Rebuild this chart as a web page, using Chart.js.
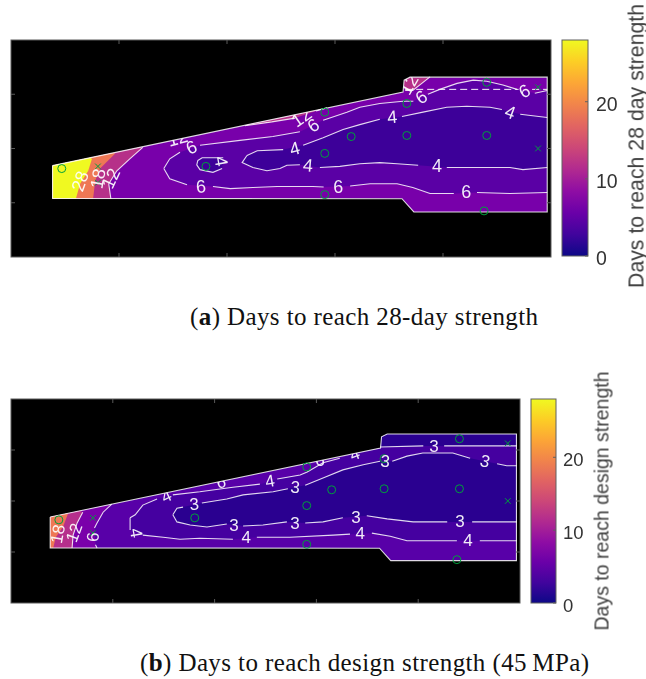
<!DOCTYPE html>
<html>
<head>
<meta charset="utf-8">
<title>Days to reach strength</title>
<script src="https://cdn.jsdelivr.net/npm/chart.js@4"></script>
<style>
  html, body { margin: 0; background: #fff; overflow: hidden; }
  canvas { position: absolute; }
  .caption { position: absolute; font-family: "Liberation Serif", serif; color: #111; white-space: nowrap; letter-spacing: 0.4px; }
  .barTitle { position: absolute; font-family: "Liberation Sans", sans-serif; color: #404040; white-space: nowrap;
    transform: translate(-50%, -50%) rotate(-90deg); }
</style>
</head>
<body>
<canvas id="mapA" width="550" height="227" style="left:6px;top:35px"></canvas>
<canvas id="barA" width="91" height="240" style="left:555px;top:30px"></canvas>
<canvas id="mapB" width="519" height="214" style="left:6px;top:394px"></canvas>
<canvas id="barB" width="76" height="228" style="left:524px;top:389px"></canvas>
<div class="barTitle" style="left:637px;top:146px;font-size:21.3px">Days to reach 28 day strength</div>
<div class="barTitle" style="left:602px;top:501px;font-size:19.5px">Days to reach design strength</div>
<div class="caption" style="left:190px;top:303px;font-size:25px">(<b>a</b>) Days to reach 28-day strength</div>
<div class="caption" style="left:140px;top:649px;font-size:25px">(<b>b</b>) Days to reach design strength (45&#8201;MPa)</div>
<script>
// section outline and sensor sites, same for both plots
const outline = [[7.7,16.85],[7.7,10.8],[72.4,10.75],[74.6,8.3],[99.3,8.3],[99.3,33.15],[73.9,33.15],[72.8,32.6],[72.6,30.4]];
const circleSites = [[9.4,16.3],[36.1,16.7],[58.1,26.7],[73.3,28.3],[88.1,32.2],[63,22.2],[73.3,22.4],[88.1,22.4],[58.1,19.1],[58.1,11.5],[87.6,8.5]];
const crossSites = [[16.1,16.7],[16.1,13.7],[97.6,31.3],[97.6,20]];

// plot a contours, null = gap in the line (label sits there, or a band corner outside the section)
const a12Left = [[24.4,20.2],[22,18.1],[19.6,15.9],[18.1,13.5],[18.5,10.7],null,[7,10],null,[7,22]];
const a18 = [[19.3,19.1],[16.5,16.3],[15.6,14.1],[15.2,10.7],null,[7,10],null,[7,22]];
const a28 = [[15,18.1],[14.3,15.9],[12.8,13.5],[12,10.7],null,[7,10],null,[7,22]];
const a12Top = [[43.3,24.2],[48.3,24.9],[52.6,25.6],null,[56.5,26.9],[58.5,27.5],null,[58.5,32],null,[43.3,32]];
const a12Notch = [[73,30.7],[74.4,30.7],[77.6,33.2],null,[77.6,35],null,[72,35]];
const a6 = [[28.3,16.3],[29.4,18.1],[31.3,19.3],null,[35,20.6],[42.4,21.5],[48.5,22.2],[53.5,23.1],null,[57.8,25.2],[62.2,26.7],[64.6,27.6],[68.3,28.3],[72.6,28.7],[74.5,28.7],null,[77.2,30],[79.4,30.9],[82.6,32],[85.6,32.6],[88.1,32.4],[91.1,31.7],[93.7,30.9],null,[97,30.2],[99.3,30.7],null,[99.3,11.9],[92.4,11.7],[86.3,11.9],null,[82,11.7],[77.6,11.7],[74.4,12.8],[71.5,13.5],[66.5,13.5],[62.8,13.1],null,[57.9,12.9],[55.9,13],[49.3,13],[44.8,12.8],[40.6,12.6],[37.4,13],null,[32.6,13.3],[29.4,14.4],[28.3,16.3]];
const a4 = [[43.7,18.7],[45.6,19.6],[50.4,19.8],null,[54.1,20.6],[57.8,22],[61.5,23.5],[64.6,24.4],[68.3,25.4],null,[72.4,25.9],[76.3,26.7],[80.7,27.6],[84.4,27.8],[88.7,27.6],[90.9,27.2],null,[94.3,26.3],[99.3,25.7],null,[99.3,16.5],[94.8,16.1],[92.4,16.5],[80.7,16.5],null,[75.4,16.9],[71.5,17.2],[68.3,17.4],[64.6,17.2],[60.9,16.7],[57.2,16.5],null,[53.5,17],[51.1,16.9],[49.8,16.3],[47.4,15.9],[44.8,16.5],[42.8,17.4],[43.7,18.7]];
const a4Core = [[34.6,17.8],[35.4,18.3],[39.3,18.3],null,[39.1,16.3],[37.4,15.6],[35,16.1],[34.4,17],[34.6,17.8]];
const aDashed = [[73,30.9],[94,30.9],null,[96.5,30.9],[99.3,30.9]];
const aLabelText = ['28','18','12','12','6','6','4','4','6','12','4','4','6','4','6','6','6','12','4'];
const aLabelX = [13,16.3,18.7,30.9,33.5,35.2,38.7,52.6,56.1,53.9,55,70.6,76.1,92.4,95.2,60.6,84.3,73.9,78.9];
const aLabelY = [13.9,14.4,14.4,21.7,20,12.8,17.6,19.8,24.1,25.6,16.7,25.6,29.3,26.5,30.4,12.8,11.7,31.7,16.5];
const aLabelTurn = [-70,-80,-65,-15,-25,-5,80,-15,-35,-35,5,-5,-35,20,-30,0,0,-60,0];

// plot b contours
const b6Line = [[19.8,19.4],[18.1,17.8],[16.9,15.7],[16.4,14.7],null,[16.6,11.4],[16.9,10.8],null,[7,10],null,[7,22]];
const b12 = [[14.1,17.8],[13,15.7],[12.2,13.3],[12,10.8],null,[7,10],null,[7,22]];
const b18 = [[11.2,17.5],[10.2,14.9],[8.8,12.9],[8.3,10.8],null,[7,10],null,[7,22]];
const b4 = [[23.4,16.7],[24.4,17.3],[25.9,19.2],[28.7,20.4],null,[31.8,21.2],[37.1,21.8],[43.6,22.7],[48.9,23.3],null,[52.3,24.3],[56.8,25.1],[58.2,25.7],[61.3,27.5],[64.6,28.4],null,[69.5,30],null,[73,35],null,[101,35],null,[101,12.2],null,[99.4,12.2],[92.1,12.2],null,[87.6,12.2],[77.8,12.2],[74.5,13.1],[70.9,13.7],null,[66.6,13.5],[63.3,13.3],[54.8,12.9],[48.3,12.9],null,[43.6,12.5],[37.1,12.7],[33.2,12.5],[29.9,12.9],[25.9,13.3],null,[23.4,14.3],[23.4,16.7]];
const b3 = [[31.8,17.3],[32.6,18.6],[33.8,18.8],null,[37.5,19.6],[42.4,20.4],[45.6,21.2],[51.5,21.8],[54.4,22.4],null,[57.8,23.1],[61.3,24.5],[65.2,26.1],[69.2,27.1],[72.5,27.8],null,[74.9,27.8],[77.8,28.8],[80.9,29.4],[86.8,29.4],[90.2,28.4],null,[95.5,27.3],[97.4,26.9],[99.4,26.9],null,[99.4,15.9],[90.6,15.9],null,[85.7,15.9],[79,15.9],[73.9,16.5],[69.9,17.1],null,[65.2,16.7],[61.3,15.9],[57.8,15.7],null,[54.2,15.9],[49.5,15.3],[45.6,15.1],null,[42.4,15.5],[38.5,14.9],[35.2,15.3],[32.6,15.9],[31.8,17.3]];
const b3Top = [[72.5,30.6],[81,30.8],null,[85.1,30.8],[99.4,30.8],null,[101,35],null,[72,35]];
const bLabelText = ['18','12','6','4','4','3','3','4','4','3','3','6','6','4','3','3','3','3','4','3','4'];
const bLabelX = [9.4,12.6,16.3,24.4,30.6,36,43.8,46.2,50.9,55.8,55.8,41.3,60.7,67.6,67.8,73.5,83.1,93.1,68.6,88.2,89.8];
const bLabelY = [13.5,13.7,12.9,13.7,20.8,19.2,15.1,12.7,23.7,22.5,15.5,23.5,27.8,29,16.7,27.6,30.6,27.6,13.5,15.9,12];
const bLabelTurn = [-80,-70,-85,80,-25,-5,0,0,-10,5,0,-10,-15,-20,0,5,0,15,0,0,0];

// colour bar
const barTicks = [0,10,20];
const barMax = [28];
const plasmaStops = ['#0d0887','#41049d','#6a00a8','#8f0da4','#b12a90','#cc4778','#e16462','#f1844b','#fca636','#fcce25','#f0f921'];

const lineWhite = 'rgba(255,255,255,0.85)';
const frameGray = '#5a5a5a';

function toPoints(arr) {
  return arr.map(p => p ? { x: p[0], y: p[1] } : { x: null, y: null });
}

function polyPath(ctx, meta, close) {
  ctx.beginPath();
  let first = true;
  meta.data.forEach(p => {
    if (p.skip) return;
    if (first) ctx.moveTo(p.x, p.y); else ctx.lineTo(p.x, p.y);
    first = false;
  });
  if (close) ctx.closePath();
}

// fills the contour bands and writes the contour numbers, all clipped to the section
const contourPlugin = {
  id: 'contourBands',
  beforeDraw(chart) {
    const a = chart.chartArea, ctx = chart.ctx;
    ctx.fillStyle = '#000';
    ctx.fillRect(a.left, a.top, a.width, a.height);
  },
  beforeDatasetsDraw(chart) {
    const ctx = chart.ctx;
    const metas = chart.data.datasets.map((d, i) => chart.getDatasetMeta(i));
    const outlineIdx = chart.data.datasets.findIndex(d => d.isOutline);
    ctx.save();
    polyPath(ctx, metas[outlineIdx], true);
    ctx.clip();
    chart.data.datasets.forEach((d, i) => {
      if (!d.band) return;
      polyPath(ctx, metas[i], true);
      ctx.fillStyle = d.band;
      ctx.fill();
    });
    ctx.restore();
  },
  afterDatasetsDraw(chart) {
    const ctx = chart.ctx, o = chart.options.plugins.contourBands;
    const outlineIdx = chart.data.datasets.findIndex(d => d.isOutline);
    ctx.save();
    polyPath(ctx, chart.getDatasetMeta(outlineIdx), true);
    ctx.clip();
    ctx.fillStyle = 'rgba(255,255,255,0.92)';
    ctx.font = o.fontSize + 'px "Liberation Sans"';
    ctx.textAlign = 'center';
    ctx.textBaseline = 'middle';
    o.text.forEach((t, i) => {
      ctx.save();
      ctx.translate(chart.scales.x.getPixelForValue(o.x[i]), chart.scales.y.getPixelForValue(o.y[i]));
      ctx.rotate(o.turn[i] * Math.PI / 180);
      ctx.fillText(t, 0, 0);
      ctx.restore();
    });
    ctx.restore();
  },
  afterDraw(chart) {
    const ctx = chart.ctx, a = chart.chartArea;
    ctx.save();
    ctx.strokeStyle = frameGray;
    ctx.lineWidth = 1;
    ctx.strokeRect(a.left, a.top, a.width, a.height);
    ctx.beginPath();
    chart.scales.x.ticks.forEach(t => {
      const px = chart.scales.x.getPixelForValue(t.value);
      if (px <= a.left || px >= a.right) return;
      ctx.moveTo(px, a.top); ctx.lineTo(px, a.top + 4);
      ctx.moveTo(px, a.bottom); ctx.lineTo(px, a.bottom - 4);
    });
    chart.scales.y.ticks.forEach(t => {
      const py = chart.scales.y.getPixelForValue(t.value);
      if (py <= a.top || py >= a.bottom) return;
      ctx.moveTo(a.left, py); ctx.lineTo(a.left + 4, py);
      ctx.moveTo(a.right, py); ctx.lineTo(a.right - 4, py);
    });
    ctx.stroke();
    ctx.restore();
  }
};

function drawMap(id, layers, dashed, labels) {
  const siteColor = '#00a03c';
  const datasets = [
    { data: toPoints(circleSites), pointStyle: 'circle', pointRadius: 4, pointBorderColor: siteColor, pointBorderWidth: 1, pointBackgroundColor: 'transparent', showLine: false },
    { data: toPoints(crossSites), pointStyle: 'crossRot', pointRadius: 4, pointBorderColor: siteColor, pointBorderWidth: 1, showLine: false },
    { data: toPoints(outline.concat([outline[0]])), isOutline: true, showLine: true, pointRadius: 0, borderColor: lineWhite, borderWidth: 1.1 }
  ];
  if (dashed) datasets.push({ data: toPoints(dashed), showLine: true, pointRadius: 0, borderColor: 'rgba(255,255,255,0.95)', borderWidth: 1, borderDash: [7, 4] });
  layers.forEach(l => {
    datasets.push({ data: toPoints(l.pts), band: l.band, showLine: true, pointRadius: 0, borderWidth: l.noLine ? 0 : 1.1, borderColor: lineWhite });
  });
  const axis = (max, step) => ({
    min: 0, max,
    ticks: { display: false, stepSize: step },
    grid: { display: false, drawTicks: false },
    border: { display: false }
  });
  return new Chart(document.getElementById(id), {
    type: 'scatter',
    data: { datasets },
    plugins: [contourPlugin],
    options: {
      responsive: false,
      animation: false,
      layout: { padding: 5 },
      scales: { x: axis(100, 20), y: axis(40, 10) },
      plugins: { legend: { display: false }, tooltip: { enabled: false }, contourBands: labels }
    }
  });
}

function drawBar(id, padding, scaleWidth, fontSize, tickGap) {
  return new Chart(document.getElementById(id), {
    type: 'bar',
    data: {
      labels: [''],
      datasets: [{
        data: barMax,
        barPercentage: 1,
        categoryPercentage: 1,
        backgroundColor(c) {
          const a = c.chart.chartArea;
          if (!a) return plasmaStops[0];
          const g = c.chart.ctx.createLinearGradient(0, a.bottom, 0, a.top);
          plasmaStops.forEach((s, i) => g.addColorStop(i / (plasmaStops.length - 1), s));
          return g;
        }
      }]
    },
    plugins: [{
      id: 'barFrame',
      afterDraw(chart) {
        const ctx = chart.ctx, a = chart.chartArea;
        ctx.save();
        ctx.strokeStyle = '#606060';
        ctx.strokeRect(a.left, a.top, a.width, a.height);
        ctx.beginPath();
        barTicks.forEach(v => {
          const py = chart.scales.y.getPixelForValue(v);
          ctx.moveTo(a.right, py); ctx.lineTo(a.right - 3, py);
        });
        ctx.stroke();
        ctx.restore();
      }
    }],
    options: {
      responsive: false,
      animation: false,
      layout: { padding },
      scales: {
        x: { display: false },
        y: {
          position: 'right', min: 0, max: barMax[0],
          afterFit(s) { s.width = scaleWidth; s.paddingTop = 0; s.paddingBottom = 0; },
          grid: { display: false, drawTicks: false },
          border: { display: false },
          ticks: {
            stepSize: 10, includeBounds: false, padding: tickGap, color: '#333',
            // blank first line nudges the number down to where the reference has it
            callback: v => ['', String(v)],
            font: { family: '"Liberation Sans"', size: fontSize, lineHeight: '7px' }
          }
        }
      },
      plugins: { legend: { display: false }, tooltip: { enabled: false } }
    }
  });
}

drawMap('mapA', [
  { pts: outline, band: '#7800aa', noLine: true },
  { pts: a12Left, band: '#b63089' },
  { pts: a18, band: '#ee7755', noLine: true },
  { pts: a28, band: '#f0f921', noLine: true },
  { pts: a12Top, band: '#b63089' },
  { pts: a12Notch, band: '#b63089' },
  { pts: a6, band: '#5a00a5' },
  { pts: a4, band: '#3d0099' },
  { pts: a4Core, band: '#3d0099' }
], aDashed, { fontSize: 18, text: aLabelText, x: aLabelX, y: aLabelY, turn: aLabelTurn });
drawBar('barA', { left: 7, top: 10, bottom: 14, right: 0 }, 58, 19.5, 8);

drawMap('mapB', [
  { pts: outline, band: '#5800a8', noLine: true },
  { pts: b6Line, band: '#7a00aa' },
  { pts: b12, band: '#b52f8c' },
  { pts: b18, band: '#ee7755', noLine: true },
  { pts: b4, band: '#4500a0' },
  { pts: b3, band: '#2a0090' },
  { pts: b3Top, band: '#2a0090' }
], null, { fontSize: 17, text: bLabelText, x: bLabelX, y: bLabelY, turn: bLabelTurn });
drawBar('barB', { left: 7, top: 10, bottom: 14, right: 0 }, 44, 18.5, 7);
</script>
</body>
</html>
